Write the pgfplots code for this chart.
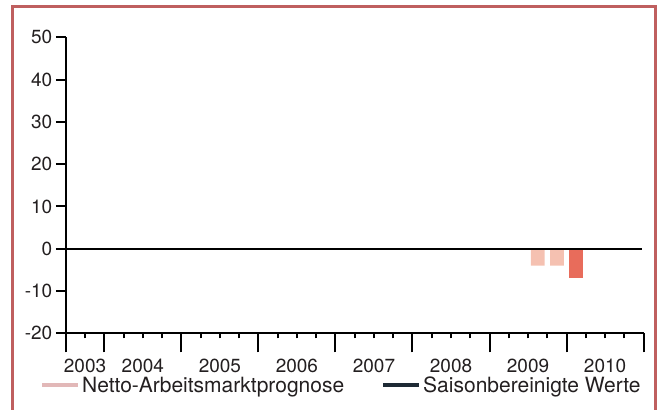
\documentclass[border=0pt]{standalone}
\usepackage{pgfplots}
\pgfplotsset{compat=1.18}
\usepackage{fontspec}
\setmainfont{TeX Gyre Heros}
\definecolor{frame}{HTML}{BF5F5F}
\definecolor{barlight}{HTML}{F5C1B1}
\definecolor{bardark}{HTML}{E86C5B}
\definecolor{legpink}{HTML}{E2B8B8}
\definecolor{legdark}{HTML}{1E2A35}
\definecolor{txt}{HTML}{231F20}
\begin{document}
\begin{tikzpicture}
\path[use as bounding box] (0pt,0pt) rectangle (662pt,410pt);
\draw[frame, line width=2.2pt] (12.5pt,-10pt) -- (12.5pt,403.5pt) -- (655.5pt,403.5pt) -- (655.5pt,-10pt);
\begin{axis}[
  at={(65.8pt,76.7pt)}, anchor=south west,
  scale only axis, width=577.8pt, height=296pt,
  xmin=0, xmax=30, ymin=-20, ymax=50,
  axis x line*=bottom, axis y line*=left,
  axis line style={-, line width=2pt, black},
  tick align=outside,
  tick style={line width=2pt, black},
  major tick length=19pt,
  minor tick length=5pt,
  xtick={0,2,6,10,14,18,22,26,30},
  xticklabels={},
  minor xtick={0,1,...,30},
  ytick=\empty,
  extra y ticks={-20,-10,0,10,20,30,40,50},
  extra y tick style={major tick length=10pt},
  extra x ticks={1,4,8,12,16,20,24,28},
  extra x tick labels={2003,2004,2005,2006,2007,2008,2009,2010},
  extra x tick style={major tick length=0pt, tick label style={yshift=-22pt}},
  /pgf/number format/assume math mode=true,
  /pgf/number format/1000 sep={},
  tick label style={font=\fontsize{19}{22}\selectfont, text=txt},
  legend style={at={(-0.0447,-0.175)}, anchor=west, draw=none, fill=none,
    inner sep=0pt, legend columns=2,
    font=\fontsize{21}{24}\selectfont, text=txt,
    /tikz/every even column/.append style={column sep=35pt}},
  legend image code/.code={\draw[#1] (0pt,0pt) -- (36pt,0pt);},
  legend cell align=left,
]
\addlegendimage{legpink, line width=4pt}
\addlegendentry{Netto-Arbeitsmarktprognose}
\addlegendimage{legdark, line width=4pt}
\addlegendentry{Saisonbereinigte Werte}
\addplot[ybar, bar shift=0pt, bar width=0.711, fill=barlight, draw=none, forget plot] coordinates {(24.5,-4) (25.5,-4)};
\addplot[ybar, bar shift=0pt, bar width=0.711, fill=bardark, draw=none, forget plot] coordinates {(26.5,-7)};
\addplot[black, line width=2pt, forget plot] coordinates {(0,0) (29.93,0)};
\end{axis}
\end{tikzpicture}
\end{document}
